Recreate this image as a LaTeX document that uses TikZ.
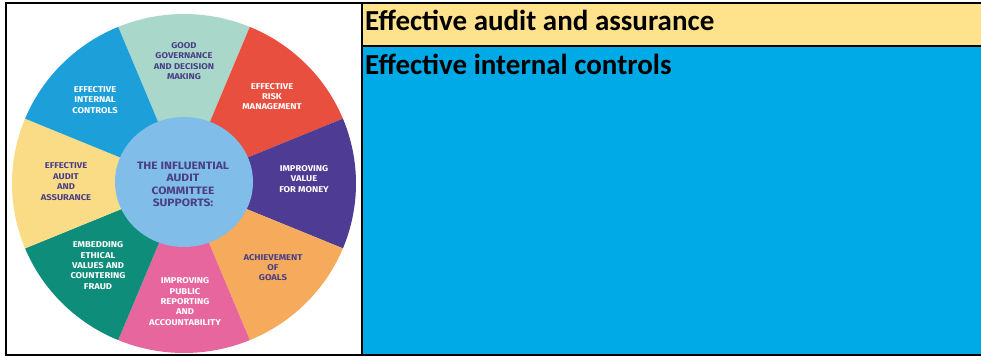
\documentclass[tikz,border=0pt]{standalone}
\usepackage{fontspec}
\setmainfont{Carlito}
\newfontfamily\wheelfont{Fira Sans}[FakeStretch=1.12]
\definecolor{cTeal}{HTML}{A9D8CB}
\definecolor{cRed}{HTML}{E94F3E}
\definecolor{cPurple}{HTML}{4E3B94}
\definecolor{cOrange}{HTML}{F6AA5B}
\definecolor{cPink}{HTML}{E8669E}
\definecolor{cGreen}{HTML}{0F8D7B}
\definecolor{cYellow}{HTML}{FBDC86}
\definecolor{cBlue}{HTML}{1DA0DA}
\definecolor{cCenter}{HTML}{80BDE8}
\definecolor{cDark}{HTML}{4A3F87}
\definecolor{hdrYellow}{HTML}{FFE38C}
\definecolor{cellBlue}{HTML}{00AAE6}
\begin{document}
\begin{tikzpicture}[x=1pt,y=-1pt,
  wtext/.style={align=center, inner sep=0pt, font=\wheelfont\bfseries\fontsize{8.4}{10.4}\selectfont},
  darktext/.style={wtext, text=cDark},
  lighttext/.style={wtext, text=white},
  celltext/.style={anchor=base west, inner sep=0pt, font=\bfseries\fontsize{29}{32}\selectfont, text=black},
  frame/.style={line width=1.7pt, draw=black}]
\useasboundingbox (0,0) rectangle (981,356);
\fill[white] (0,0) rectangle (981,356);
% right panel cells
\fill[hdrYellow] (362,3) rectangle (981,45.5);
\fill[cellBlue] (362,45.5) rectangle (981,355);
% wheel sectors
\begin{scope}[shift={(184,183.5)}]
  \foreach \a/\c in {90/cTeal,45/cRed,0/cPurple,-45/cOrange,-90/cPink,-135/cGreen,180/cYellow,135/cBlue}{
    \pgfmathsetmacro{\sa}{\a-22.5}
    \pgfmathsetmacro{\ea}{\a+22.5}
    \fill[\c] (0pt,0pt) -- (\sa:172pt and 169.5pt) arc[start angle=\sa, end angle=\ea, x radius=172pt, y radius=169.5pt] -- cycle;
  }
\end{scope}
\fill[cCenter] (184,182) circle[x radius=69pt, y radius=65pt];
% wheel labels
\node[darktext] (gov) at (184,61) {GOOD\\GOVERNANCE\\AND DECISION\\MAKING};
\node[lighttext] (ctrl) at (95,100) {EFFECTIVE\\INTERNAL\\CONTROLS};
\node[darktext] (aud) at (66,181.5) {EFFECTIVE\\AUDIT\\AND\\ASSURANCE};
\node[lighttext] (risk) at (272,96.5) {EFFECTIVE\\RISK\\MANAGEMENT};
\node[lighttext] (vfm) at (304,179) {IMPROVING\\VALUE\\FOR MONEY};
\node[darktext] (goal) at (273,267.5) {ACHIEVEMENT\\OF\\GOALS};
\node[lighttext] (pub) at (185,301.5) {IMPROVING\\PUBLIC\\REPORTING\\AND\\ACCOUNTABILITY};
\node[lighttext] (eth) at (98,265.5) {EMBEDDING\\ETHICAL\\VALUES AND\\COUNTERING\\FRAUD};
\node[wtext, text=cDark, font=\wheelfont\bfseries\fontsize{10.7}{12.4}\selectfont] (ctr) at (183,184.5) {THE INFLUENTIAL\\AUDIT\\COMMITTEE\\SUPPORTS:};
% cell texts
\node[celltext] (r1) at (365,30) {Effective audit and assurance};
\node[celltext] (r2) at (365,74) {Effective internal controls};
% frame lines
\draw[frame] (5.8,3) -- (5.8,355);
\draw[frame] (5,3) -- (981,3);
\draw[frame] (5,355) -- (981,355);
\draw[frame] (362,3) -- (362,355);
\draw[line width=2pt] (362,45.5) -- (981,45.5);
\end{tikzpicture}
\end{document}
